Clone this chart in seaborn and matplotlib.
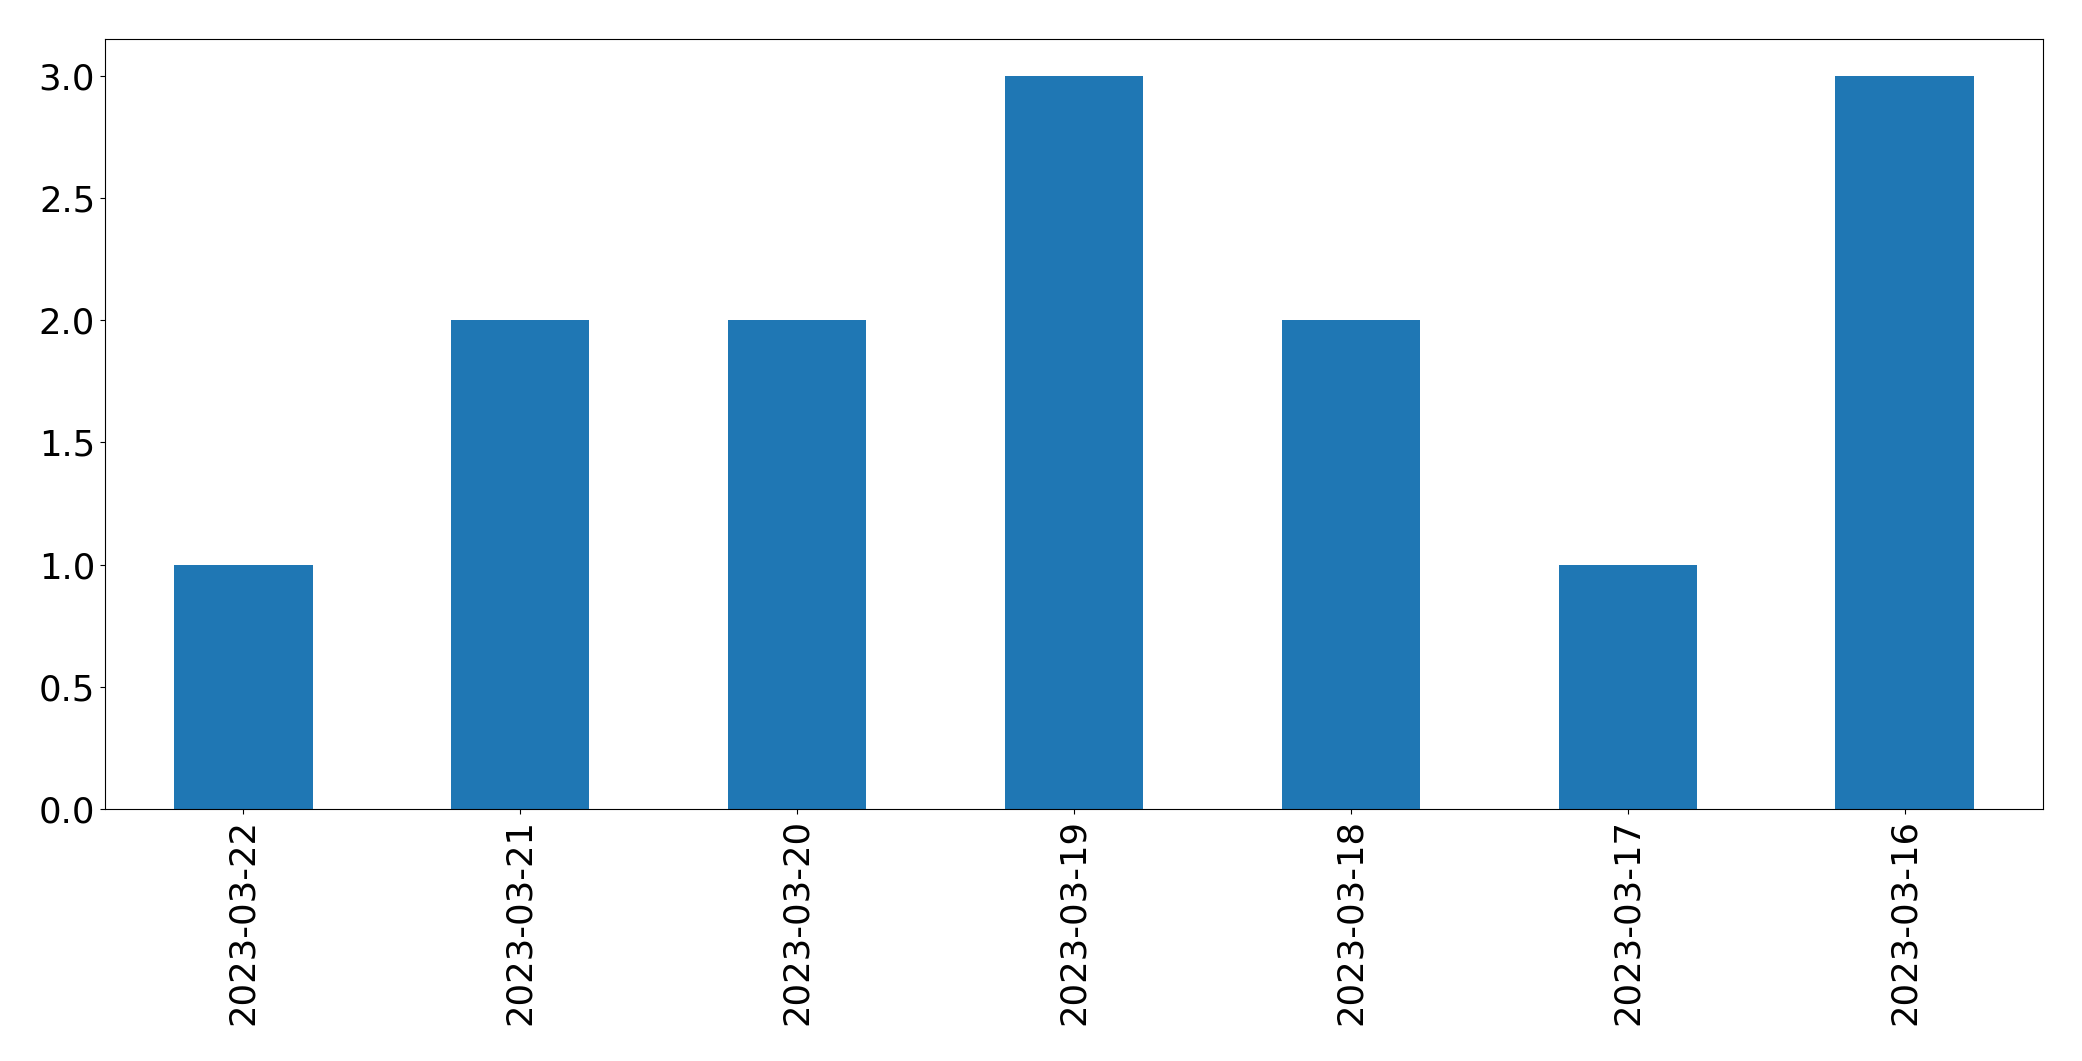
import matplotlib
matplotlib.use("Agg")
import matplotlib.pyplot as plt
import seaborn as sns
import pandas as pd

dates = ['2023-03-22', '2023-03-21', '2023-03-20', '2023-03-19',
         '2023-03-18', '2023-03-17', '2023-03-16']
counts = [1, 2, 2, 3, 2, 1, 3]

df = pd.DataFrame({'date': dates, 'count': counts})

fig, ax = plt.subplots(figsize=(20.82, 10.61), dpi=100)
fig.subplots_adjust(left=0.0504, right=0.9813, top=0.9632, bottom=0.2375)

sns.barplot(data=df, x='date', y='count', order=dates, color='#1f77b4',
            saturation=1, width=0.5, ax=ax)
ax.set_xlim(-0.5, len(dates) - 0.5)
ax.set_ylim(0, 3.15)
ax.set_xlabel('')
ax.set_ylabel('')
ax.tick_params(axis='both', labelsize=25.5)
ax.tick_params(axis='x', labelrotation=90)

fig.savefig('out.png', dpi=100)
